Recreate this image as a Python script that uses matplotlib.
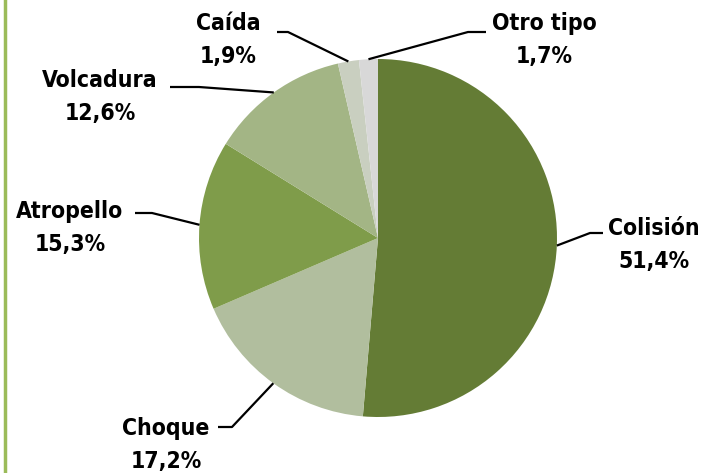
import numpy as np
import matplotlib
matplotlib.use("Agg")
import matplotlib.pyplot as plt

plt.rcParams['font.family'] = ['DejaVu Sans']
plt.rcParams['font.stretch'] = 'condensed'

# data
categorias = ['Colisión', 'Choque', 'Atropello', 'Volcadura', 'Caída', 'Otro tipo']
porcentajes = [51.4, 17.2, 15.3, 12.6, 1.9, 1.7]
colores = ['#647c35', '#b1be9e', '#7f9c4a', '#a3b585', '#c9cfc0', '#d8d8d8']

# label layout (pixel coords, y up): text centre, elbow, line end
pos_texto = [(654, 228), (166, 28), (70, 245), (100, 376), (228, 433), (544, 433)]
pos_codo = [(590, 240), (232, 46), (152, 260), (199, 386), (288, 441), (468, 441)]
pos_fin = [(603, 240), (218, 46), (135, 260), (170, 386), (277, 441), (486, 441)]

W, H = 706, 473
centro = (378, 235)
radio = 179

fig = plt.figure(figsize=(W / 100, H / 100), dpi=100)
ax = fig.add_axes([0, 0, 1, 1])

wedges, _ = ax.pie(porcentajes, colors=colores, startangle=90, counterclock=False,
                   center=centro, radius=radio, frame=True,
                   wedgeprops=dict(linewidth=0))
ax.set_xlim(0, W)
ax.set_ylim(0, H)
ax.set_aspect('equal')
ax.axis('off')

for w, cat, val, pt, codo, fin in zip(wedges, categorias, porcentajes, pos_texto, pos_codo, pos_fin):
    ang = np.deg2rad((w.theta1 + w.theta2) / 2)
    ax0 = centro[0] + radio * np.cos(ang)
    ay0 = centro[1] + radio * np.sin(ang)
    ax.plot([ax0, codo[0], fin[0]], [ay0, codo[1], fin[1]], color='black', lw=1.6,
            solid_capstyle='butt')
    etiqueta = f"{cat}\n{val:.1f}%".replace('.', ',')
    ax.text(pt[0], pt[1], etiqueta, ha='center', va='center', fontsize=16.5,
            fontweight='bold', fontstretch='condensed', linespacing=1.6,
            color='black')

# green frame line at the left edge
fig.add_artist(plt.Line2D([4.5 / W, 4.5 / W], [0, 1], color='#9bbb59', lw=2.5,
                          transform=fig.transFigure))

fig.savefig('out.png', dpi=100)
